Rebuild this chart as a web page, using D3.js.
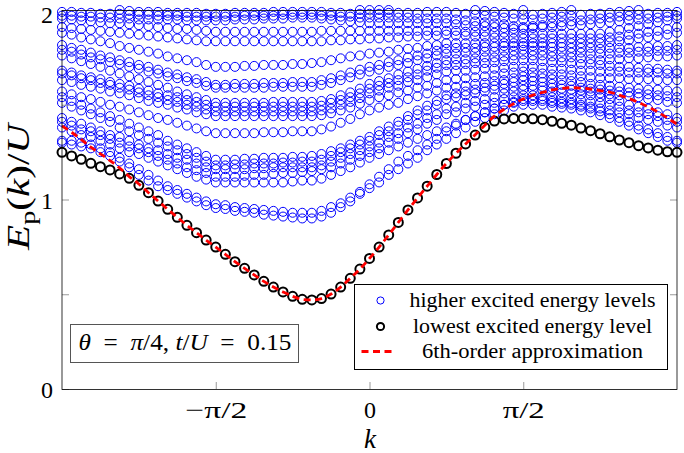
<!DOCTYPE html>
<html>
<head>
<meta charset="utf-8">
<script src="https://cdn.jsdelivr.net/npm/d3@7"></script>
<style>
  body { margin: 0; background: #fff; }
  text { font-family: "Liberation Serif", "DejaVu Serif", serif; }
</style>
</head>
<body>
<div id="chart"></div>
<script>
// momentum grid: 65 points from -pi to pi
const kCount = 65;
const kValues = d3.range(kCount).map(i => -Math.PI + i * 2 * Math.PI / (kCount - 1));

// lowest excited energy level (black circles)
const lowestLevel = [1.249,1.230,1.212,1.191,1.173,1.156,1.135,1.112,1.075,1.036,0.992,0.948,0.906,0.864,0.825,0.786,0.749,
  0.711,0.672,0.637,0.602,0.568,0.538,0.512,0.489,0.473,0.470,0.477,0.501,0.538,0.584,0.633,0.689,0.749,0.813,0.879,0.945,
  1.008,1.070,1.132,1.190,1.244,1.293,1.340,1.381,1.414,1.425,1.428,1.428,1.426,1.421,1.413,1.402,1.392,1.377,1.363,1.347,
  1.331,1.314,1.300,1.284,1.272,1.260,1.252,1.249];

// 6th-order approximation (red dashed)
const approx6th = [1.388,1.355,1.317,1.276,1.241,1.205,1.166,1.121,1.082,1.036,0.992,0.948,0.906,0.864,0.825,0.786,0.749,
  0.711,0.672,0.637,0.602,0.568,0.538,0.512,0.489,0.473,0.470,0.477,0.501,0.538,0.584,0.633,0.689,0.749,0.813,0.879,0.945,
  1.008,1.070,1.132,1.190,1.244,1.293,1.342,1.392,1.440,1.476,1.505,1.530,1.551,1.565,1.578,1.586,1.590,1.588,1.583,1.575,
  1.567,1.551,1.533,1.512,1.488,1.462,1.430,1.398];

// higher excited energy levels (blue circles), one array per level
const higherLevels = [
  [1.30,1.29,1.28,1.27,1.25,1.23,1.20,1.17,1.13, 1.10,1.07,1.05,1.03,1.01,0.99,0.97,0.955, 0.95,0.94,0.935,0.93,0.92,0.915,0.91,0.905,0.90,0.90,
   0.91,0.93,0.96,0.99,1.03,1.06, 1.09,1.13,1.16,1.19,1.22,1.26,1.29,1.32, 1.35,1.38,1.41,1.43,1.45,1.47,1.49,1.50,
   1.50,1.50,1.49,1.485,1.48,1.47,1.46,1.445, 1.43,1.41,1.39,1.37,1.35,1.33,1.31,1.30],
  [1.31,1.31,1.30,1.29,1.27,1.25,1.22,1.19,1.16, 1.13,1.10,1.07,1.05,1.03,1.01,0.99,0.975, 0.97,0.96,0.955,0.95,0.945,0.94,0.935,0.93,0.93,0.93,
   0.94,0.96,0.98,1.01,1.04,1.08, 1.12,1.16,1.20,1.23,1.26,1.29,1.32,1.36, 1.39,1.42,1.44,1.46,1.48,1.50,1.51,1.52,
   1.52,1.52,1.51,1.505,1.50,1.49,1.48,1.465, 1.45,1.43,1.41,1.39,1.37,1.35,1.33,1.31],
  [1.38,1.36,1.34,1.33,1.31,1.29,1.27,1.25,1.24, 1.22,1.20,1.18,1.16,1.14,1.12,1.105,1.09, 1.09,1.09,1.09,1.09,1.09,1.09,1.09,1.095,1.10,1.10,
   1.11,1.13,1.15,1.17,1.195,1.22, 1.24,1.26,1.28,1.30,1.32,1.34,1.36,1.38, 1.40,1.42,1.44,1.46,1.48,1.50,1.515,1.53,
   1.53,1.53,1.52,1.515,1.51,1.50,1.49,1.48, 1.47,1.46,1.45,1.43,1.42,1.41,1.39,1.38],
  [1.41,1.39,1.37,1.36,1.34,1.32,1.30,1.28,1.27, 1.25,1.23,1.21,1.19,1.17,1.155,1.14,1.12, 1.12,1.12,1.125,1.13,1.13,1.135,1.14,1.14,1.145,1.15,
   1.16,1.17,1.19,1.21,1.23,1.25, 1.27,1.30,1.32,1.35,1.37,1.40,1.42,1.45, 1.46,1.48,1.49,1.50,1.51,1.53,1.54,1.55,
   1.55,1.545,1.54,1.535,1.53,1.525,1.515,1.51, 1.50,1.49,1.47,1.46,1.45,1.44,1.42,1.41],
  [1.43,1.41,1.40,1.38,1.36,1.34,1.33,1.31,1.29, 1.27,1.26,1.24,1.22,1.21,1.19,1.17,1.16, 1.16,1.16,1.16,1.165,1.165,1.17,1.17,1.17,1.17,1.17,
   1.18,1.20,1.22,1.24,1.26,1.28, 1.30,1.33,1.35,1.38,1.40,1.43,1.45,1.48, 1.49,1.51,1.52,1.53,1.54,1.56,1.57,1.58,
   1.58,1.575,1.57,1.565,1.56,1.555,1.55,1.54, 1.53,1.52,1.50,1.49,1.48,1.46,1.45,1.43],
  [1.51,1.49,1.47,1.45,1.43,1.41,1.38,1.36,1.34, 1.32,1.30,1.28,1.26,1.24,1.22,1.20,1.18, 1.18,1.185,1.185,1.19,1.19,1.19,1.195,1.195,1.20,1.20,
   1.21,1.23,1.25,1.27,1.29,1.31, 1.34,1.36,1.39,1.42,1.45,1.47,1.50,1.53, 1.54,1.55,1.56,1.57,1.58,1.585,1.595,1.60,
   1.60,1.595,1.59,1.585,1.58,1.575,1.57,1.56, 1.555,1.55,1.545,1.54,1.53,1.525,1.515,1.51],
  [1.54,1.52,1.50,1.48,1.46,1.44,1.42,1.40,1.38, 1.36,1.34,1.31,1.29,1.27,1.25,1.23,1.21, 1.21,1.21,1.215,1.215,1.22,1.22,1.22,1.225,1.225,1.23,
   1.24,1.255,1.27,1.29,1.31,1.33, 1.36,1.385,1.41,1.44,1.47,1.495,1.52,1.55, 1.56,1.57,1.58,1.59,1.60,1.61,1.62,1.63,
   1.625,1.62,1.61,1.605,1.60,1.59,1.585,1.58, 1.575,1.57,1.565,1.56,1.555,1.55,1.545,1.54],
  [1.57,1.555,1.54,1.53,1.515,1.50,1.49,1.475,1.46, 1.445,1.43,1.42,1.405,1.39,1.375,1.36,1.35, 1.35,1.35,1.35,1.35,1.355,1.355,1.355,1.36,1.36,1.36,
   1.37,1.385,1.405,1.425,1.45,1.47, 1.485,1.50,1.51,1.53,1.545,1.56,1.575,1.59, 1.595,1.60,1.61,1.615,1.625,1.63,1.64,1.65,
   1.645,1.64,1.635,1.63,1.625,1.62,1.61,1.605, 1.60,1.595,1.59,1.585,1.58,1.58,1.575,1.57],
  [1.63,1.62,1.605,1.595,1.585,1.57,1.56,1.55,1.535, 1.52,1.51,1.50,1.485,1.475,1.46,1.45,1.44, 1.44,1.44,1.44,1.44,1.44,1.44,1.44,1.44,1.44,1.44,
   1.445,1.455,1.47,1.485,1.505,1.525, 1.54,1.55,1.565,1.575,1.59,1.60,1.615,1.63, 1.635,1.64,1.645,1.65,1.655,1.665,1.67,1.675,
   1.67,1.665,1.66,1.66,1.655,1.65,1.645,1.64, 1.64,1.64,1.635,1.635,1.635,1.63,1.63,1.63],
  [1.665,1.655,1.64,1.63,1.615,1.605,1.59,1.58,1.565, 1.55,1.54,1.525,1.515,1.50,1.49,1.475,1.465, 1.465,1.465,1.465,1.465,1.465,1.465,1.465,1.465,1.465,1.465,
   1.47,1.48,1.50,1.515,1.535,1.56, 1.575,1.59,1.60,1.62,1.63,1.645,1.66,1.675, 1.68,1.68,1.685,1.69,1.69,1.695,1.70,1.70,
   1.70,1.695,1.69,1.69,1.685,1.68,1.68,1.675, 1.675,1.675,1.67,1.67,1.67,1.67,1.665,1.665],
  [1.68,1.67,1.655,1.645,1.635,1.62,1.61,1.60,1.585, 1.575,1.56,1.55,1.54,1.525,1.515,1.50,1.49, 1.49,1.49,1.49,1.49,1.49,1.49,1.49,1.49,1.49,1.49,
   1.495,1.51,1.525,1.54,1.56,1.585, 1.60,1.615,1.63,1.645,1.66,1.68,1.695,1.71, 1.71,1.715,1.72,1.72,1.725,1.73,1.735,1.735,
   1.735,1.73,1.725,1.725,1.72,1.715,1.715,1.71, 1.705,1.70,1.70,1.695,1.69,1.69,1.685,1.68],
  [1.76,1.745,1.73,1.715,1.70,1.68,1.665,1.65,1.635, 1.62,1.605,1.59,1.57,1.555,1.54,1.525,1.51, 1.51,1.51,1.51,1.51,1.51,1.515,1.515,1.515,1.515,1.515,
   1.52,1.53,1.55,1.565,1.585,1.61, 1.625,1.64,1.66,1.675,1.69,1.705,1.72,1.735, 1.74,1.74,1.745,1.75,1.75,1.755,1.76,1.765,
   1.76,1.76,1.755,1.75,1.75,1.745,1.74,1.735, 1.74,1.74,1.745,1.745,1.75,1.755,1.755,1.76],
  [1.79,1.78,1.765,1.75,1.74,1.725,1.715,1.70,1.69, 1.675,1.665,1.65,1.64,1.625,1.615,1.60,1.59, 1.59,1.59,1.59,1.59,1.59,1.595,1.595,1.595,1.595,1.595,
   1.605,1.615,1.63,1.645,1.66,1.675, 1.685,1.70,1.71,1.72,1.735,1.745,1.76,1.77, 1.77,1.775,1.775,1.78,1.78,1.785,1.785,1.79,
   1.785,1.785,1.78,1.78,1.775,1.775,1.77,1.77, 1.77,1.775,1.775,1.78,1.78,1.785,1.785,1.79],
  [1.815,1.80,1.79,1.775,1.76,1.75,1.735,1.725,1.71, 1.70,1.685,1.67,1.66,1.645,1.635,1.62,1.605, 1.605,1.61,1.61,1.61,1.615,1.615,1.615,1.62,1.62,1.62,
   1.63,1.64,1.655,1.67,1.685,1.70, 1.71,1.725,1.735,1.75,1.76,1.77,1.785,1.795, 1.80,1.80,1.80,1.805,1.805,1.81,1.81,1.81,
   1.81,1.81,1.805,1.805,1.80,1.80,1.80,1.795, 1.80,1.80,1.80,1.805,1.805,1.81,1.81,1.815],
  [1.88,1.87,1.855,1.845,1.835,1.825,1.81,1.80,1.79, 1.78,1.77,1.755,1.745,1.735,1.725,1.71,1.70, 1.70,1.70,1.705,1.705,1.71,1.71,1.71,1.715,1.715,1.72,
   1.725,1.735,1.745,1.755,1.76,1.77, 1.775,1.78,1.79,1.795,1.80,1.81,1.815,1.825, 1.825,1.825,1.825,1.825,1.825,1.825,1.825,1.825,
   1.825,1.825,1.825,1.825,1.825,1.825,1.825,1.825, 1.83,1.835,1.84,1.85,1.855,1.86,1.87,1.88],
  [1.91,1.905,1.90,1.895,1.89,1.885,1.88,1.875,1.87, 1.865,1.86,1.855,1.85,1.845,1.84,1.835,1.835, 1.835,1.835,1.835,1.835,1.835,1.835,1.835,1.835,1.835,1.835,
   1.835,1.84,1.84,1.845,1.845,1.85, 1.85,1.855,1.855,1.86,1.86,1.865,1.865,1.87, 1.865,1.865,1.86,1.86,1.855,1.855,1.85,1.85,
   1.85,1.85,1.85,1.85,1.85,1.85,1.85,1.85, 1.855,1.86,1.87,1.875,1.885,1.89,1.90,1.91],
  [1.955,1.95,1.945,1.94,1.935,1.93,1.93,1.925,1.92, 1.915,1.91,1.905,1.90,1.90,1.895,1.89,1.885, 1.885,1.885,1.885,1.885,1.885,1.885,1.885,1.885,1.885,1.885,
   1.89,1.89,1.89,1.89,1.89,1.89, 1.89,1.89,1.89,1.89,1.89,1.89,1.89,1.89, 1.89,1.885,1.885,1.885,1.88,1.88,1.88,1.875,
   1.875,1.875,1.875,1.875,1.875,1.875,1.875,1.875, 1.885,1.895,1.905,1.915,1.925,1.935,1.945,1.955],
  [1.97,1.97,1.965,1.965,1.96,1.96,1.955,1.955,1.95, 1.95,1.95,1.95,1.95,1.945,1.945,1.945,1.945, 1.945,1.95,1.95,1.95,1.955,1.955,1.955,1.96,1.96,1.96,
   1.955,1.95,1.945,1.94,1.935,1.93, 1.93,1.93,1.93,1.93,1.93,1.93,1.93,1.93, 1.925,1.92,1.915,1.915,1.91,1.905,1.90,1.90,
   1.905,1.91,1.91,1.915,1.92,1.92,1.925,1.93, 1.935,1.94,1.945,1.95,1.955,1.96,1.965,1.97],
  [1.99,1.99,1.985,1.985,1.98,1.98,1.98,1.975,1.975, 1.975,1.97,1.97,1.97,1.965,1.965,1.965,1.965, 1.965,1.965,1.97,1.97,1.97,1.97,1.975,1.975,1.975,1.975,
   1.97,1.97,1.965,1.965,1.96,1.96, 1.96,1.96,1.96,1.96,1.955,1.955,1.955,1.955, 1.95,1.945,1.94,1.935,1.93,1.925,1.915,1.91,
   1.915,1.92,1.93,1.935,1.94,1.945,1.95,1.955, 1.96,1.965,1.97,1.975,1.98,1.985,1.985,1.99],
  [2.03,2.025,2.02,2.015,2.01,2.005,2.0,1.995,1.99, 1.99,1.99,1.985,1.985,1.985,1.985,1.98,1.98, 1.98,1.985,1.985,1.985,1.985,1.99,1.99,1.99,1.99,1.99,
   1.99,1.985,1.985,1.98,1.98,1.98, 1.98,1.985,1.985,1.985,1.985,1.99,1.99,1.99, 1.985,1.98,1.975,1.97,1.965,1.96,1.955,1.95,
   1.95,1.955,1.96,1.965,1.97,1.975,1.98,1.98, 1.985,1.99,1.995,2.0,2.01,2.015,2.02,2.03],
  [2.06,2.055,2.05,2.045,2.04,2.035,2.03,2.025,2.02, 2.02,2.02,2.02,2.02,2.02,2.02,2.02,2.02, 2.02,2.02,2.02,2.02,2.02,2.02,2.02,2.02,2.02,2.02,
   2.015,2.01,2.01,2.005,2.0,2.0, 2.0,2.0,2.005,2.005,2.01,2.01,2.015,2.02, 2.015,2.01,2.0,1.995,1.99,1.985,1.98,1.975,
   1.975,1.98,1.985,1.99,2.0,2.005,2.01,2.02, 2.025,2.03,2.035,2.04,2.045,2.05,2.055,2.06],
  [2.10,2.09,2.09,2.08,2.08,2.07,2.07,2.06,2.06, 2.06,2.06,2.055,2.055,2.055,2.05,2.05,2.05, 2.05,2.05,2.05,2.05,2.05,2.05,2.05,2.05,2.05,2.05,
   2.045,2.04,2.04,2.035,2.03,2.03, 2.03,2.035,2.035,2.04,2.04,2.045,2.045,2.05, 2.045,2.04,2.03,2.025,2.02,2.01,2.005,2.0,
   2.005,2.01,2.02,2.025,2.03,2.04,2.045,2.05, 2.055,2.06,2.07,2.075,2.08,2.09,2.095,2.10]
];

const xTicks = [-Math.PI / 2, 0, Math.PI / 2];
const xTickLabels = ["\u2212\u03c0/2", "0", "\u03c0/2"];
const xTickWidths = [62, 12, 42];
const yTicks = [0, 0.5, 1, 1.5, 2];
const yTickLabels = ["0", "", "1", "", "2"];
const legendLabels = ["higher excited energy levels", "lowest excited energy level", "6th-order approximation"];
const legendWidths = [246, 239, 221];

const W = 684, H = 453;
const plot = { left: 62, right: 677, top: 10, bottom: 389 };

const svg = d3.select("#chart").append("svg")
  .attr("width", W)
  .attr("height", H);

const x = d3.scaleLinear().domain([-Math.PI, Math.PI]).range([plot.left, plot.right]);
const y = d3.scaleLinear().domain([0, 2]).range([plot.bottom, plot.top]);

// blue circles, only what falls inside the y range
const bluePts = [];
higherLevels.forEach(level => level.forEach((v, i) => {
  if (v <= 2.001) bluePts.push({ k: kValues[i], v: v });
}));

svg.append("g")
  .selectAll("circle")
  .data(bluePts)
  .join("circle")
  .attr("cx", d => x(d.k))
  .attr("cy", d => y(d.v))
  .attr("r", 4.5)
  .attr("fill", "none")
  .attr("stroke", "#0000ff")
  .attr("stroke-width", 1);

svg.append("g")
  .selectAll("circle")
  .data(lowestLevel)
  .join("circle")
  .attr("cx", (d, i) => x(kValues[i]))
  .attr("cy", d => y(d))
  .attr("r", 4.5)
  .attr("fill", "none")
  .attr("stroke", "#000")
  .attr("stroke-width", 2);

const line = d3.line()
  .x((d, i) => x(kValues[i]))
  .y(d => y(d))
  .curve(d3.curveMonotoneX);

svg.append("path")
  .datum(approx6th)
  .attr("d", line)
  .attr("fill", "none")
  .attr("stroke", "#ff0000")
  .attr("stroke-width", 2.8)
  .attr("stroke-dasharray", "7,4.5");

// axes with inward ticks
const tickColor = "#9a9a9a";
function styleAxis(g) {
  g.select(".domain").remove();
  g.selectAll(".tick line").attr("stroke", tickColor);
  g.selectAll(".tick text")
    .attr("fill", "#000")
    .style("font-family", "'Liberation Serif', serif")
    .style("font-size", "24px");
}

svg.append("g")
  .attr("transform", `translate(0,${plot.bottom})`)
  .call(d3.axisBottom(x).tickValues(xTicks).tickFormat((d, i) => xTickLabels[i])
    .tickSizeInner(-7).tickSizeOuter(0).tickPadding(12))
  .call(styleAxis)
  .call(g => g.selectAll(".tick text")
    .attr("textLength", (d, i) => xTickWidths[i])
    .attr("lengthAdjust", "spacingAndGlyphs"));

svg.append("g")
  .attr("transform", `translate(0,${plot.top})`)
  .call(d3.axisTop(x).tickValues(xTicks).tickFormat("")
    .tickSizeInner(-7).tickSizeOuter(0))
  .call(styleAxis);

svg.append("g")
  .attr("transform", `translate(${plot.left},0)`)
  .call(d3.axisLeft(y).tickValues(yTicks).tickFormat((d, i) => yTickLabels[i])
    .tickSizeInner(-7).tickSizeOuter(0).tickPadding(9))
  .call(styleAxis)
  .call(g => g.selectAll(".tick text").attr("dy", d => d === 2 ? "0.5em" : "0.36em"));

svg.append("g")
  .attr("transform", `translate(${plot.right},0)`)
  .call(d3.axisRight(y).tickValues(yTicks).tickFormat("")
    .tickSizeInner(-7).tickSizeOuter(0))
  .call(styleAxis);

// frame
svg.append("rect")
  .attr("x", plot.left)
  .attr("y", plot.top + 0.5)
  .attr("width", plot.right - plot.left)
  .attr("height", plot.bottom - plot.top)
  .attr("fill", "none")
  .attr("stroke", "#000")
  .attr("stroke-width", 0.8);

// axis labels
svg.append("text")
  .attr("x", 370)
  .attr("y", 447.5)
  .attr("text-anchor", "middle")
  .style("font-size", "27px")
  .style("font-style", "italic")
  .text("k");

const yLab = svg.append("text")
  .attr("transform", "translate(28.5,187) rotate(-90)")
  .attr("text-anchor", "middle")
  .attr("textLength", 126)
  .attr("lengthAdjust", "spacingAndGlyphs")
  .style("font-size", "32px");
yLab.append("tspan").style("font-style", "italic").text("E");
yLab.append("tspan").attr("dy", 6).style("font-size", "22px").text("p");
yLab.append("tspan").attr("dy", -6).text("(");
yLab.append("tspan").style("font-style", "italic").text("k");
yLab.append("tspan").text(")/");
yLab.append("tspan").style("font-style", "italic").text("U");

// parameter box
svg.append("rect")
  .attr("x", 70.5).attr("y", 324.5)
  .attr("width", 228).attr("height", 38)
  .attr("fill", "#fff")
  .attr("stroke", "#555")
  .attr("stroke-width", 1);

const info = svg.append("text")
  .attr("x", 185).attr("y", 350)
  .attr("text-anchor", "middle")
  .attr("textLength", 213)
  .attr("lengthAdjust", "spacingAndGlyphs")
  .style("font-size", "24px");
info.append("tspan").style("font-style", "italic").text("\u03b8");
info.append("tspan").text("\u2002=\u2002");
info.append("tspan").style("font-style", "italic").text("\u03c0");
info.append("tspan").text("/4, ");
info.append("tspan").style("font-style", "italic").text("t");
info.append("tspan").text("/");
info.append("tspan").style("font-style", "italic").text("U");
info.append("tspan").text("\u2002=\u20020.15");

// legend
const legend = svg.append("g");
legend.append("rect")
  .attr("x", 354.5).attr("y", 284.5)
  .attr("width", 313).attr("height", 85)
  .attr("fill", "#fff")
  .attr("stroke", "#000")
  .attr("stroke-width", 1);

const legendRows = [300.5, 326.5, 351.5];
legend.append("circle").attr("cx", 380.5).attr("cy", legendRows[0]).attr("r", 3.6)
  .attr("fill", "none").attr("stroke", "#0000ff").attr("stroke-width", 1);
legend.append("circle").attr("cx", 380.5).attr("cy", legendRows[1]).attr("r", 3.6)
  .attr("fill", "none").attr("stroke", "#000").attr("stroke-width", 2);
legend.append("line")
  .attr("x1", 361.5).attr("x2", 394).attr("y1", legendRows[2]).attr("y2", legendRows[2])
  .attr("stroke", "#ff0000").attr("stroke-width", 2.8).attr("stroke-dasharray", "7,4.5");

legend.selectAll("text.lbl")
  .data(legendLabels)
  .join("text")
  .attr("class", "lbl")
  .attr("x", 532.5)
  .attr("y", (d, i) => legendRows[i])
  .attr("dy", "0.32em")
  .attr("text-anchor", "middle")
  .attr("textLength", (d, i) => legendWidths[i])
  .attr("lengthAdjust", "spacingAndGlyphs")
  .style("font-size", "20px")
  .text(d => d);
</script>
</body>
</html>
